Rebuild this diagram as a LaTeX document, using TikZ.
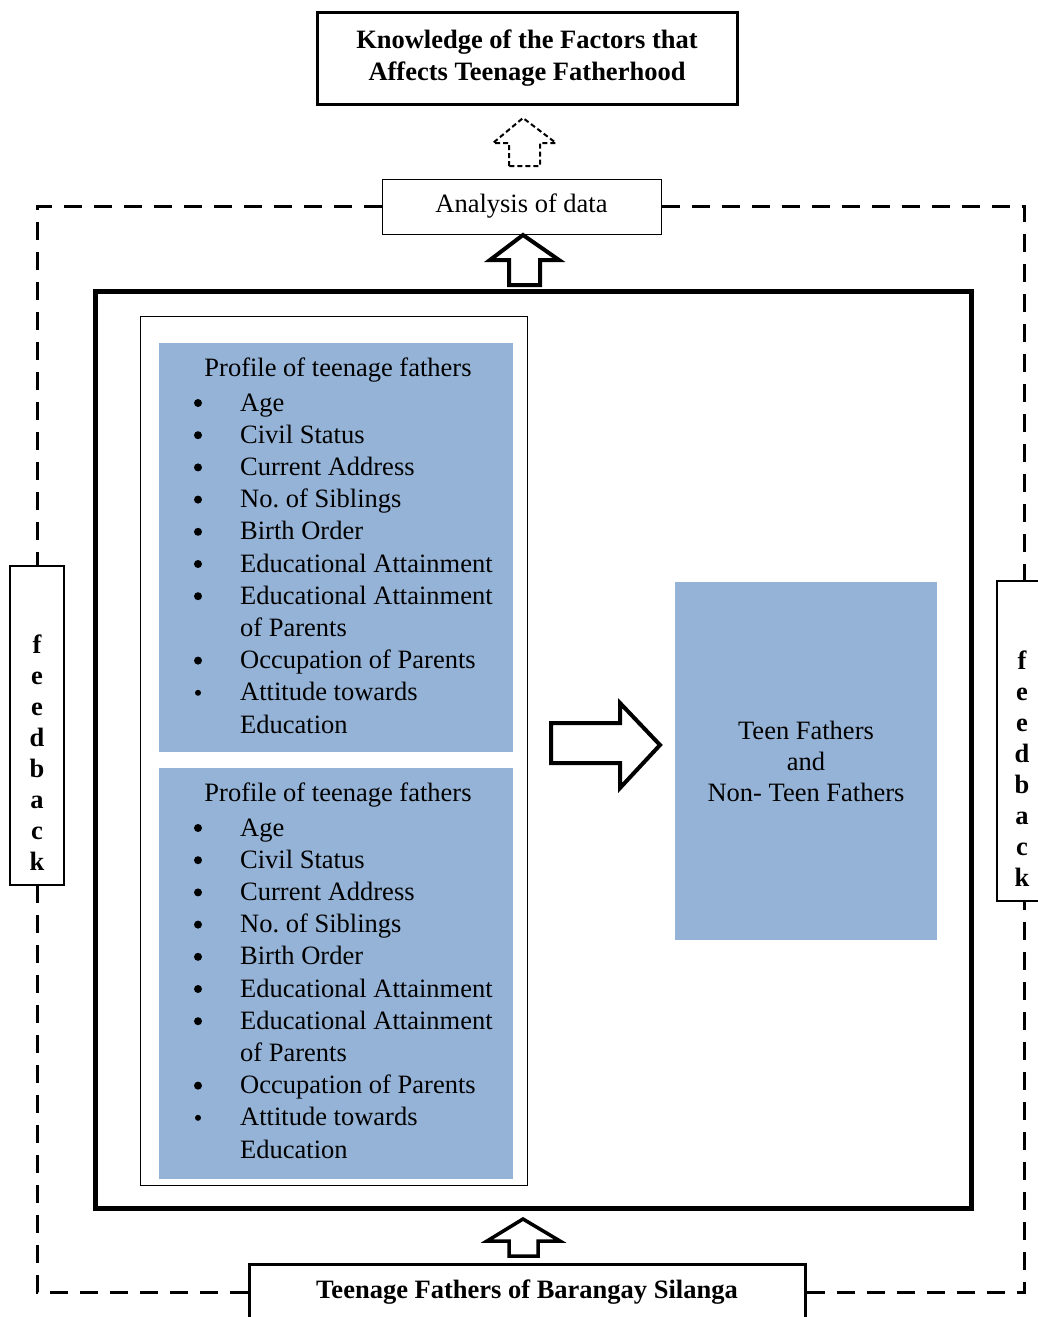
\documentclass[tikz,border=0pt]{standalone}
\usepackage{fontspec}
\setmainfont{Liberation Serif}
\usetikzlibrary{positioning}
\definecolor{profileblue}{HTML}{95B3D7}

\tikzset{
    boldbox/.style={draw, line width=3pt, align=center, inner sep=0pt,
        font=\bfseries\fontsize{26.5}{32}\selectfont},
    thinbox/.style={draw, line width=1pt, inner sep=0pt},
    bluebox/.style={fill=profileblue, inner sep=0pt, align=center,
        font=\fontsize{26.5}{31}\selectfont},
    loopline/.style={line width=3pt, dash pattern=on 18pt off 12pt},
    itemtext/.style={anchor=base west, inner sep=0pt, font=\fontsize{26.5}{32}\selectfont},
    fbletters/.style={align=center, inner sep=0pt, font=\bfseries\fontsize{26.5}{31}\selectfont},
}

\begin{document}
\begin{tikzpicture}[x=1pt, y=-1pt]
    \useasboundingbox (0,0) rectangle (1038,1317);

    % output and process
    \node[boldbox, minimum width=420, minimum height=92] (knowledge) at (527,58)
        {Knowledge of the Factors that\\Affects Teenage Fatherhood};
    \node[thinbox, minimum width=279, minimum height=55,
        font=\fontsize{26.5}{32}\selectfont] (analysis) at (521.5,206.5) {Analysis of data};

    % input frame
    \node[draw, line width=5pt, minimum width=876, minimum height=917] (frame) at (533,749.5) {};
    \node[thinbox, minimum width=387, minimum height=869] (inputs) at (333.5,750.5) {};
    \node[bluebox, minimum width=354, minimum height=409] (profileA) at (336,547.5) {};
    \node[bluebox, minimum width=354, minimum height=411] (profileB) at (336,973.5) {};
    \node[bluebox, minimum width=262, minimum height=358] (fathers) at (806,761)
        {Teen Fathers\\and\\Non- Teen Fathers};

    % profile lists
    \foreach \blk/\off in {A/0, B/425} {
        \node[font=\fontsize{26.5}{32}\selectfont, inner sep=0pt] (title\blk) at (338,{370+\off})
            {Profile of teenage fathers};
        \foreach \txt/\dot [count=\i from 0] in {Age/4, Civil Status/4, Current Address/4,
            No.\ of Siblings/4, Birth Order/4, Educational Attainment/4,
            Educational Attainment/4, of Parents/0, Occupation of Parents/4,
            Attitude towards/3, Education/0} {
            \node[itemtext] (item\blk\i) at (240,{411+\off+32.2*\i}) {\txt};
            \ifnum\dot>0 \fill (198,{403+\off+32.2*\i}) circle (\dot); \fi
        }
    }

    % feedback boxes
    \node[draw, line width=1.2pt, minimum width=54, minimum height=319] (fbleft) at (37,725.5) {};
    \node[fbletters] (fbleftlbl) at (37,753) {f\\e\\e\\d\\b\\a\\c\\k};
    \node[draw, line width=1.2pt, minimum width=54, minimum height=320] (fbright) at (1024,741) {};
    \node[fbletters] (fbrightlbl) at (1022,769) {f\\e\\e\\d\\b\\a\\c\\k};

    % respondents
    \node[boldbox, minimum width=556, minimum height=56] (barangay) at (527,1292)
        {Teenage Fathers of Barangay Silanga};

    % feedback loop
    \draw[loopline] (analysis.west) -| (fbleft.north);
    \draw[loopline] (analysis.east) -| (fbright.north);
    \draw[loopline] (barangay.west) -| (fbleft.south);
    \draw[loopline] (barangay.east) -| (fbright.south);

    % block arrows
    \draw[line width=2pt, dash pattern=on 5pt off 3pt]
        (509,166) -- (509,143) -- (493,143) -- (523,118) -- (556,143) -- (540,143) -- (540,166) -- cycle;
    \draw[line width=4pt, line join=miter]
        (509,285) -- (509,260) -- (490,260) -- (523,235) -- (559,260) -- (540,260) -- (540,285) -- cycle;
    \draw[line width=4pt, line join=miter]
        (551,723) -- (620,723) -- (620,703) -- (660,745) -- (620,788) -- (620,763) -- (551,763) -- cycle;
    \draw[line width=3.5pt, line join=miter]
        (509,1256) -- (509,1241) -- (487,1241) -- (523,1219) -- (560,1241) -- (538,1241) -- (538,1256) -- cycle;
\end{tikzpicture}
\end{document}
